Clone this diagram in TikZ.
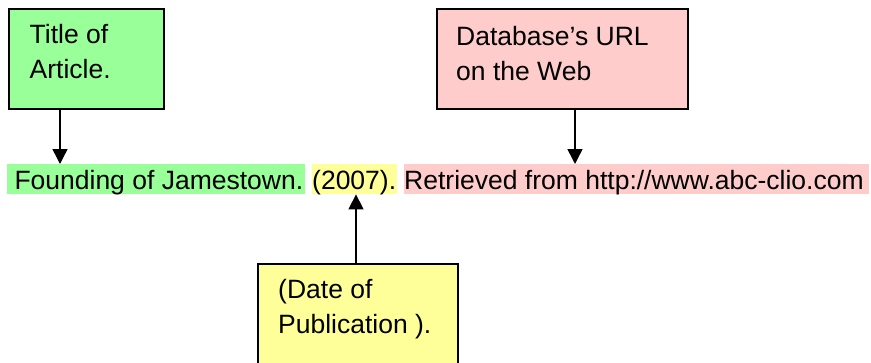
\documentclass[tikz,border=0pt]{standalone}
\usepackage{fontspec}
\setmainfont{Liberation Sans}
\usetikzlibrary{arrows.meta,calc}
\definecolor{hlgreen}{HTML}{99FF99}
\definecolor{hlyellow}{HTML}{FFFF99}
\definecolor{hlpink}{HTML}{FFCCCC}
\begin{document}
\begin{tikzpicture}[x=1pt,y=-1pt,
  txt/.style={font=\fontsize{26.5}{35.5}\selectfont},
  boxnode/.style={draw=black,line width=1.6pt,anchor=north west,inner sep=0pt},
  boxtext/.style={txt,anchor=north west,inner sep=0pt,align=left},
  hl/.style={txt,anchor=north west,inner xsep=0pt,inner ysep=0pt,text height=25pt,text depth=5pt},
  arr/.style={line width=1.5pt,-{Triangle[width=15pt,length=15pt]}}]
\useasboundingbox (0,0) rectangle (871,362);
\clip (0,0) rectangle (871,362);
% boxes
\node[boxnode,fill=hlgreen,minimum width=155pt,minimum height=100pt] (gbox) at (8,8) {};
\node[boxnode,fill=hlpink,minimum width=251pt,minimum height=100pt] (pbox) at (436,8) {};
\node[boxnode,fill=hlyellow,minimum width=200pt,minimum height=130pt] (ybox) at (257,263) {};
% box texts
\node[boxtext] (gtext) at ($(gbox.north west)+(21.5,15)$) {\rule{0pt}{20pt}Title of\\Article.};
\node[boxtext] (ptext) at ($(pbox.north west)+(20,17)$) {\rule{0pt}{20pt}Database’s URL\\on the Web};
\node[boxtext] (ytext) at ($(ybox.north west)+(21,15)$) {\rule{0pt}{20pt}(Date of\\Publication ).};
% highlighted citation
\node[hl,fill=hlgreen] (ghl) at (7,164) {\makebox[298pt][l]{\hspace*{7.3pt}Founding of Jamestown.}};
\node[hl,fill=hlyellow] (yhl) at (312,164) {\makebox[85pt][l]{(2007).}};
\node[hl,fill=hlpink] (phl) at (404,164) {\makebox[465pt][l]{Retrieved from http://www.abc-clio.com}};
% arrows
\draw[arr] ([xshift=52pt]gbox.south west) -- ([xshift=53pt]ghl.north west);
\draw[arr] ([xshift=139pt]pbox.south west) -- ([xshift=171pt]phl.north west);
\draw[arr] ([xshift=99pt]ybox.north west) -- ([xshift=44pt]yhl.south west);
\end{tikzpicture}
\end{document}
